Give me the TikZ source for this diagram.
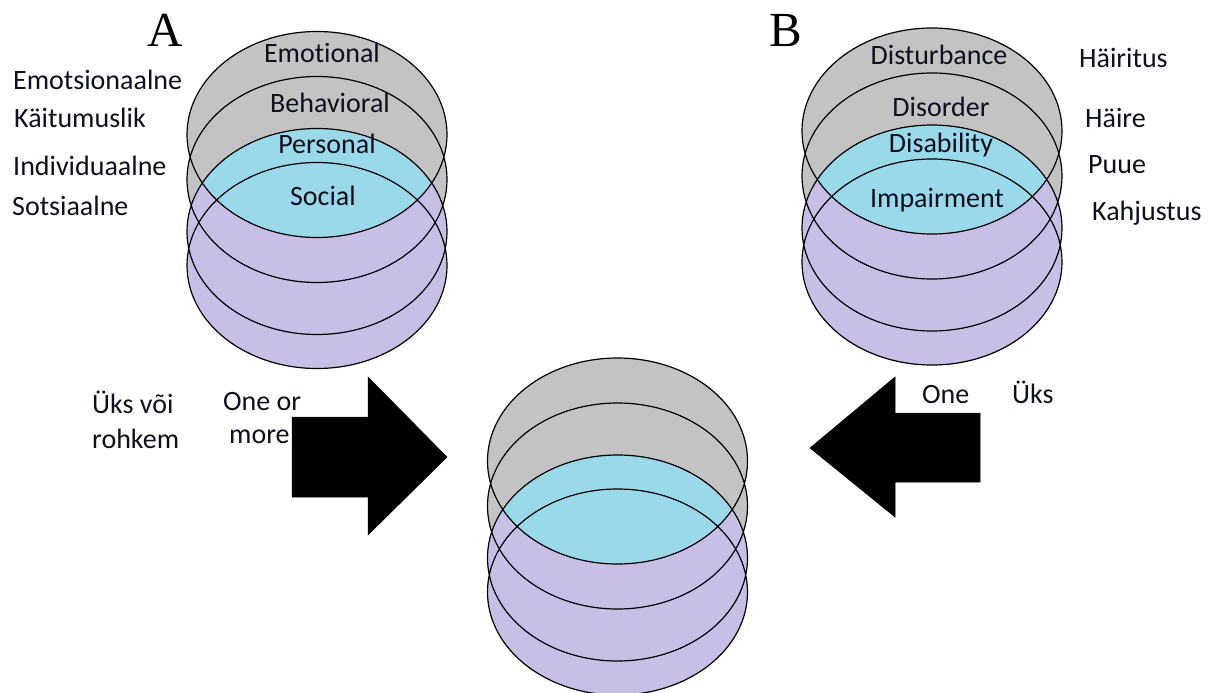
\documentclass[tikz,border=0pt]{standalone}
\usepackage{fontspec}
\setmainfont{Carlito}[Ligatures={NoCommon}]
\newfontfamily\letterfont{Liberation Serif}
\definecolor{pgray}{RGB}{195,195,195}
\definecolor{pturq}{RGB}{153,217,234}
\definecolor{plav}{RGB}{200,191,231}
\definecolor{ink}{RGB}{15,15,30}
\newcommand\drawstack[2]{%
  \fill[pgray] (#1,#2) ellipse[x radius=130pt, y radius=103pt]
               (#1,#2+45) ellipse[x radius=130pt, y radius=103pt];
  \fill[plav] (#1,#2+97) ellipse[x radius=130pt, y radius=103pt]
              (#1,#2+131) ellipse[x radius=130pt, y radius=103pt];
  \begin{scope}
    \clip (#1,#2) ellipse[x radius=130pt, y radius=103pt];
    \fill[pturq] (#1,#2+97) ellipse[x radius=130pt, y radius=103pt]
                 (#1,#2+131) ellipse[x radius=130pt, y radius=103pt];
  \end{scope}
  \draw[outline] (#1,#2) ellipse[x radius=130pt, y radius=103pt]
                 (#1,#2+45) ellipse[x radius=130pt, y radius=103pt]
                 (#1,#2+97) ellipse[x radius=130pt, y radius=103pt]
                 (#1,#2+131) ellipse[x radius=130pt, y radius=103pt];
}
\begin{document}
\begin{tikzpicture}[x=1pt,y=-1pt,
  outline/.style={draw=black,line width=1.2pt},
  lbl/.style={inner sep=0pt,text=ink,font=\fontsize{28}{30}\selectfont},
  bigletter/.style={inner sep=0pt,text=black,font=\letterfont\fontsize{49}{50}\selectfont},
  blockarrow/.style={fill=black,draw=black,line width=0.5pt,line join=miter}]
\useasboundingbox (0,0) rectangle (1211,693);
\fill[white] (0,0) rectangle (1211,693);

% stacks
\drawstack{317}{134.5}
\drawstack{932}{131}
\drawstack{617.5}{461}

% big letters
\node[bigletter,anchor=base] (lA) at (165,47) {A};
\node[bigletter,anchor=base] (lB) at (786,47) {B};

% stack A labels
\node[lbl,anchor=base] (emo) at (322,63) {Emotional};
\node[lbl,anchor=base] (beh) at (330,113) {Behavioral};
\node[lbl,anchor=base] (per) at (327,153) {Personal};
\node[lbl,anchor=base] (soc) at (323,205) {Social};
\node[lbl,anchor=base west] (emoet) at (13,90) {Emotsionaalne};
\node[lbl,anchor=base west] (behet) at (14,127) {Käitumuslik};
\node[lbl,anchor=base west] (peret) at (13,175) {Individuaalne};
\node[lbl,anchor=base west] (socet) at (12,215) {Sotsiaalne};

% stack B labels
\node[lbl,anchor=base] (dist) at (939,65) {Disturbance};
\node[lbl,anchor=base] (disord) at (941,117) {Disorder};
\node[lbl,anchor=base] (disab) at (941,152) {Disability};
\node[lbl,anchor=base] (imp) at (937,207) {Impairment};
\node[lbl,anchor=base west] (distet) at (1079,68) {Häiritus};
\node[lbl,anchor=base west] (disordet) at (1085,128) {Häire};
\node[lbl,anchor=base west] (disabet) at (1088,173) {Puue};
\node[lbl,anchor=base west] (impet) at (1092,220) {Kahjustus};

% block arrows
\draw[blockarrow] (292,417) -- (368,417) -- (368,377) -- (447,457) -- (368,535) -- (368,497) -- (292,497) -- cycle;
\draw[blockarrow] (980,413) -- (895,413) -- (895,377) -- (810,448) -- (895,517) -- (895,482) -- (980,482) -- cycle;

% arrow labels
\node[lbl,anchor=base west] (uks1) at (92,413) {Üks või};
\node[lbl,anchor=base west] (rohkem) at (92,448) {rohkem};
\node[lbl,anchor=base west] (oneor) at (223,410) {One or};
\node[lbl,anchor=base west] (more) at (229,443) {more};
\node[lbl,anchor=base west] (one) at (922,403) {One};
\node[lbl,anchor=base west] (uks2) at (1012,403) {Üks};
\end{tikzpicture}
\end{document}
